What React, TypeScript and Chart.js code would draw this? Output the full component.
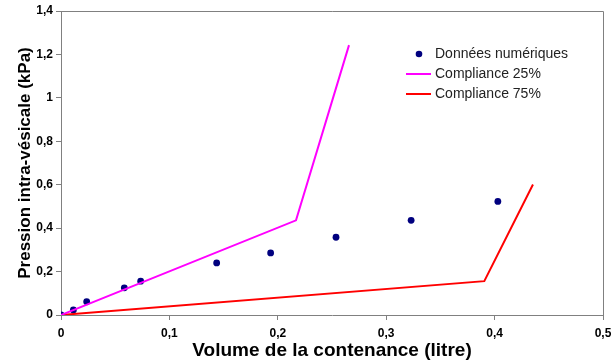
import React, { useEffect, useRef } from "react";
import { Chart, registerables } from "chart.js";

Chart.register(...registerables);

// Données numériques (volume in litre, pressure in kPa)
const dataVolume = [0, 0.0114, 0.0237, 0.0584, 0.0735, 0.1436, 0.1934, 0.2537, 0.323, 0.403];
const dataPressure = [0, 0.023, 0.061, 0.125, 0.156, 0.24, 0.286, 0.358, 0.436, 0.523];

// Compliance 25%
const c25Volume = [0, 0.2168, 0.2657];
const c25Pressure = [0, 0.436, 1.243];

// Compliance 75%
const c75Volume = [0, 0.3905, 0.4354];
const c75Pressure = [0, 0.156, 0.601];

const seriesLabels = ["Données numériques", "Compliance 25%", "Compliance 75%"];
const xTitle = "Volume de la contenance (litre)";
const yTitle = "Pression intra-vésicale (kPa)";

const toPoints = (xs: number[], ys: number[]) => xs.map((x, i) => ({ x, y: ys[i] }));
const fmt = (v: number) => String(Number(Number(v).toFixed(2))).replace(".", ",");

const boxPlugin = {
  id: "boxPlugin",
  afterDatasetsDraw(chart: any) {
    const { ctx, chartArea } = chart;
    ctx.save();
    ctx.strokeStyle = "#808080";
    ctx.lineWidth = 1;
    ctx.beginPath();
    ctx.moveTo(chartArea.left, chartArea.top + 0.5);
    ctx.lineTo(chartArea.right + 0.5, chartArea.top + 0.5);
    ctx.lineTo(chartArea.right + 0.5, chartArea.bottom);
    ctx.stroke();

    // legend
    const lx = chartArea.left + 345;
    const ly = chartArea.top + 43;
    const gap = 20;
    ctx.font = "14px 'Liberation Sans', Arial, sans-serif";
    ctx.textBaseline = "middle";
    ctx.textAlign = "left";
    // dot
    ctx.beginPath();
    ctx.fillStyle = "#00007f";
    ctx.arc(lx + 13, ly, 3.3, 0, Math.PI * 2);
    ctx.fill();
    ctx.fillStyle = "#222222";
    ctx.fillText(seriesLabels[0], lx + 29, ly);
    const colors = ["#ff00ff", "#ff0000"];
    for (let i = 0; i < 2; i++) {
      const y = ly + gap * (i + 1);
      ctx.strokeStyle = colors[i];
      ctx.lineWidth = 2;
      ctx.beginPath();
      ctx.moveTo(lx, y);
      ctx.lineTo(lx + 25, y);
      ctx.stroke();
      ctx.fillText(seriesLabels[i + 1], lx + 29, y);
    }
    ctx.restore();
  },
};

export default function App() {
  const ref = useRef<HTMLCanvasElement | null>(null);
  useEffect(() => {
    if (!ref.current) return;
    const tickFont = { family: "'Liberation Sans', Arial, sans-serif", size: 12, weight: "bold" as const };
    const chart = new Chart(ref.current, {
      type: "scatter",
      data: {
        datasets: [
          {
            label: seriesLabels[1],
            data: toPoints(c25Volume, c25Pressure),
            showLine: true,
            borderColor: "#ff00ff",
            borderWidth: 2,
            pointRadius: 0,
            tension: 0,
          },
          {
            label: seriesLabels[2],
            data: toPoints(c75Volume, c75Pressure),
            showLine: true,
            borderColor: "#ff0000",
            borderWidth: 2,
            pointRadius: 0,
            tension: 0,
          },
          {
            label: seriesLabels[0],
            data: toPoints(dataVolume, dataPressure),
            showLine: false,
            backgroundColor: "#00007f",
            borderColor: "#00007f",
            pointRadius: 3.4,
            pointBorderWidth: 0,
          },
        ],
      },
      options: {
        animation: false,
        responsive: true,
        maintainAspectRatio: false,
        layout: { padding: { top: 11, right: 8, left: 0, bottom: 0 } },
        plugins: { legend: { display: false }, tooltip: { enabled: false } },
        scales: {
          x: {
            type: "linear",
            min: 0,
            max: 0.5,
            ticks: { stepSize: 0.1, color: "#000", font: tickFont, padding: 6, callback: (v: any) => fmt(v), maxRotation: 0 },
            grid: { drawOnChartArea: false, drawTicks: true, tickLength: 5, color: "#808080" },
            border: { display: true, color: "#808080" },
            title: {
              display: true,
              text: xTitle,
              color: "#000",
              font: { family: "'Liberation Sans', Arial, sans-serif", size: 19, weight: "bold" },
              padding: { top: 1, bottom: 0 },
            },
            afterFit: (s: any) => {
              s.height = 47;
              s.paddingLeft = 0;
              s.paddingRight = 0;
            },
          },
          y: {
            type: "linear",
            min: 0,
            max: 1.4,
            ticks: { stepSize: 0.2, color: "#000", font: tickFont, padding: 3, callback: (v: any) => fmt(v) },
            grid: { drawOnChartArea: false, drawTicks: true, tickLength: 5, color: "#808080" },
            border: { display: true, color: "#808080" },
            title: {
              display: true,
              text: yTitle,
              color: "#000",
              font: { family: "'Liberation Sans', Arial, sans-serif", size: 17, weight: "bold" },
              padding: { top: 15, bottom: 0 },
            },
            afterFit: (s: any) => {
              s.width = 61;
              s.paddingTop = 0;
              s.paddingBottom = 0;
            },
          },
        },
      },
      plugins: [boxPlugin],
    } as any);
    return () => chart.destroy();
  }, []);
  return (
    <div style={{ position: "absolute", left: 0, top: 0, width: 611, height: 362, background: "#fff" }}>
      <canvas ref={ref} />
    </div>
  );
}
